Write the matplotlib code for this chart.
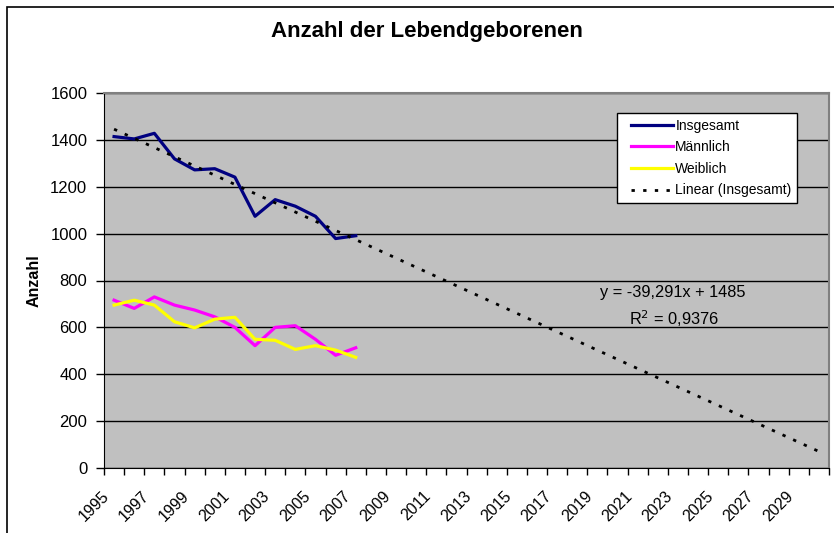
import matplotlib
matplotlib.use("Agg")
import matplotlib.pyplot as plt
import matplotlib.patches as patches
import matplotlib.transforms as mtransforms
from matplotlib.legend_handler import HandlerLine2D
import numpy as np

plt.rcParams["font.family"] = ["Liberation Sans", "DejaVu Sans"]

# Kategorien (Jahre) der x-Achse
jahre = list(range(1995, 2031))
# Messwerte 1995-2007
daten_jahre = list(range(1995, 2008))
insgesamt = [1414, 1404, 1428, 1319, 1272, 1277, 1241, 1074, 1145, 1117, 1074, 979, 991]
maennlich = [716, 681, 730, 695, 674, 645, 600, 522, 600, 607, 549, 481, 513]
weiblich = [695, 716, 695, 624, 598, 635, 643, 549, 545, 506, 522, 503, 472]
# Trendlinie laut Excel-Formel (x = 1, 2, ...)
steigung = -39.291
achse = 1485
r2 = 0.9376

x_kat = np.arange(len(jahre))
x_daten = [jahre.index(j) for j in daten_jahre]

fig = plt.figure(figsize=(8.34, 5.33), dpi=100)
ax = fig.add_axes([104 / 834, 1 - 468 / 533, 725 / 834, 375 / 533])
ax.set_facecolor("#C0C0C0")

# Rahmen des Diagrammbereichs
fig.patches.append(patches.Rectangle((7 / 834, -0.1), 1.2, 1 - 7 / 533 + 0.1,
                                     transform=fig.transFigure, fill=False,
                                     edgecolor="black", linewidth=1.2))

ax.plot(x_daten, insgesamt, color="#000080", lw=2.3, label="Insgesamt", zorder=3)
ax.plot(x_daten, maennlich, color="#FF00FF", lw=2.3, label="Männlich", zorder=3)
ax.plot(x_daten, weiblich, color="#FFFF00", lw=2.3, label="Weiblich", zorder=3)
trend = steigung * (x_kat + 1) + achse
ax.plot(x_kat, trend, color="black", lw=2, linestyle=(0, (1.2, 3)),
        label="Linear (Insgesamt)", zorder=4)

ax.set_xlim(-0.5, len(jahre) - 0.5)
ax.set_ylim(0, 1600)
ax.set_yticks(range(0, 1601, 200))
ax.grid(axis="y", color="black", lw=1)
ax.set_axisbelow(True)

# Striche zwischen den Kategorien, Beschriftung jedes zweite Jahr
ax.set_xticks(np.arange(-0.5, len(jahre)), minor=False)
ax.set_xticklabels([])
ax.set_xticks(x_kat[::2], minor=True)
ax.set_xticklabels([str(j) for j in jahre[::2]], minor=True, rotation=45,
                   ha="right", rotation_mode="anchor", fontsize=11.5)
ax.tick_params(axis="x", which="minor", length=0, pad=6)
ax.tick_params(axis="x", which="major", length=5, width=1, color="black")
ax.tick_params(axis="y", length=6, width=1, labelsize=12, pad=6)

verschiebung = mtransforms.ScaledTranslation(-13 / 100, -12 / 100, fig.dpi_scale_trans)
for lab in ax.get_xticklabels(minor=True):
    lab.set_transform(lab.get_transform() + verschiebung)

for s in ["top", "right"]:
    ax.spines[s].set_color("#808080")
    ax.spines[s].set_linewidth(1.5)
ax.spines["left"].set_color("black")
ax.spines["bottom"].set_color("black")

ax.set_ylabel("Anzahl", fontsize=11.5, fontweight="bold", labelpad=6)
fig.text(427 / 834, 1 - 31 / 533, "Anzahl der Lebendgeborenen", ha="center",
         va="center", fontsize=16, fontweight="bold")

ax.text(0.785, 0.467, "y = -39,291x + 1485", transform=ax.transAxes,
        ha="center", va="center", fontsize=11.8)
ax.text(0.786, 0.397, "R$^2$ = 0,9376", transform=ax.transAxes,
        ha="center", va="center", fontsize=11.8)

leg = ax.legend(loc="upper left", bbox_to_anchor=(617 / 834, 1 - 113 / 533),
                bbox_transform=fig.transFigure, borderaxespad=0, fontsize=10,
                fancybox=False, edgecolor="black", framealpha=1,
                handlelength=3.6, handletextpad=0.2, labelspacing=0.55,
                handler_map={matplotlib.lines.Line2D: HandlerLine2D(xpad=0.6)})
leg.get_frame().set_linewidth(1)

fig.savefig("out.png", dpi=100)
